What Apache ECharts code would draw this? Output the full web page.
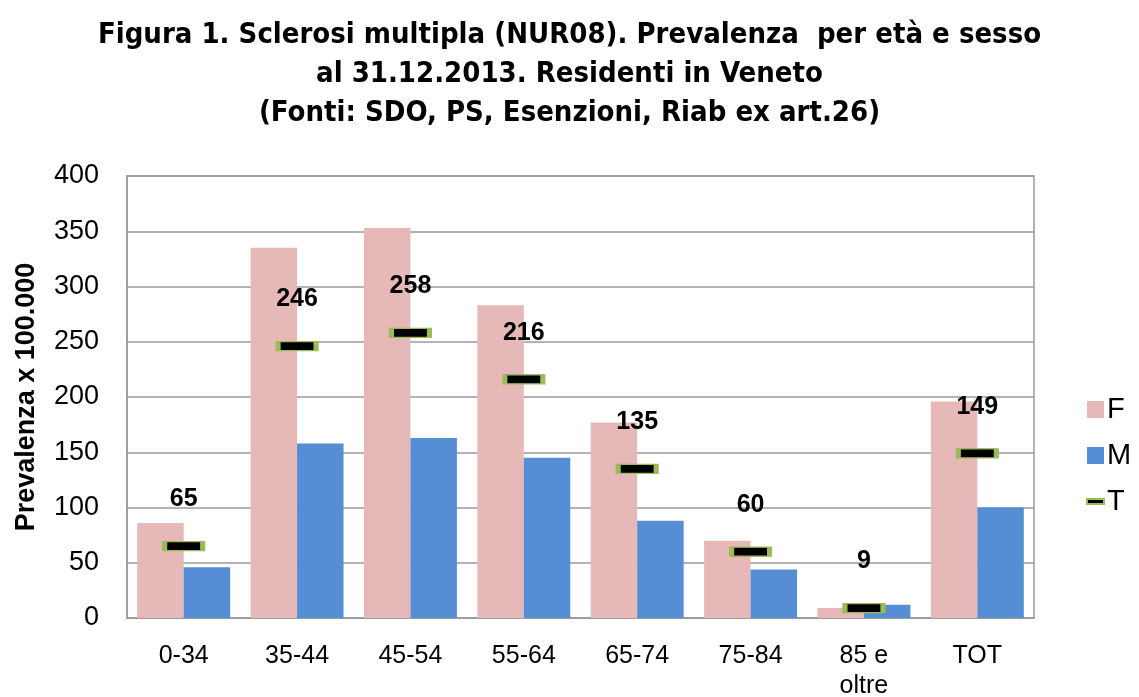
<!DOCTYPE html>
<html>
<head>
<meta charset="utf-8">
<script src="https://cdn.jsdelivr.net/npm/echarts@6/dist/echarts.min.js"></script>
<style>
  html, body { margin: 0; padding: 0; background: #fff; }
  #chart { width: 1139px; height: 697px; }
</style>
</head>
<body>
<div id="chart"></div>
<script>
// classi di età
var categories = ["0-34", "35-44", "45-54", "55-64", "65-74", "75-84", "85 e\noltre", "TOT"];
// prevalenza femmine
var valuesF = [86, 335, 353, 283, 177, 70, 9, 196];
// prevalenza maschi
var valuesM = [46, 158, 163, 145, 88, 44, 12, 100];
// totale
var valuesT = [65, 246, 258, 216, 135, 60, 9, 149];
var yTicks = [0, 50, 100, 150, 200, 250, 300, 350, 400];

var myChart = echarts.init(document.getElementById("chart"));
var option;

option = {
  animation: false,
  title: {
    text: "Figura 1. Sclerosi multipla (NUR08). Prevalenza  per età e sesso\nal 31.12.2013. Residenti in Veneto\n(Fonti: SDO, PS, Esenzioni, Riab ex art.26)",
    left: "center",
    top: 11,
    textStyle: {
      fontFamily: "'Liberation Sans Narrow', 'DejaVu Sans Condensed', sans-serif",
      fontWeight: "bold",
      fontSize: 29,
      lineHeight: 39,
      color: "#000",
    },
  },
  legend: {
    orient: "vertical",
    left: 1081,
    top: 390,
    itemWidth: 17,
    itemHeight: 17,
    itemGap: 17,
    textStyle: {
      fontFamily: "'Liberation Sans', Arial, sans-serif",
      fontSize: 29,
      color: "#000",
      padding: [0, 0, 0, -2],
    },
    data: [
      { name: "F", icon: "rect" },
      { name: "M", icon: "rect" },
      {
        name: "T",
        icon: "path://M0,0 L20,0 L20,6 L0,6 Z",
        itemStyle: { color: "#000", borderColor: "#9BBB59", borderWidth: 2 },
      },
    ],
  },
  grid: {
    left: 127,
    right: 105,
    top: 176,
    bottom: 79,
    outerBoundsMode: "none",
    show: true,
    borderColor: "#9a9a9a",
    borderWidth: 1.5,
  },
  xAxis: {
    type: "category",
    data: categories,
    axisLine: { lineStyle: { color: "#9a9a9a", width: 1.5 } },
    axisTick: { show: false },
    axisLabel: {
      margin: 23,
      fontFamily: "'Liberation Sans', Arial, sans-serif",
      fontSize: 25,
      lineHeight: 30,
      color: "#000",
    },
  },
  yAxis: {
    type: "value",
    min: yTicks[0],
    max: yTicks[yTicks.length - 1],
    interval: 50,
    name: "Prevalenza x 100.000",
    nameLocation: "middle",
    nameGap: 87,
    nameTextStyle: {
      fontFamily: "'Liberation Sans', Arial, sans-serif",
      fontWeight: "bold",
      fontSize: 27,
      color: "#000",
    },
    axisLine: { show: true, lineStyle: { color: "#9a9a9a", width: 1.5 } },
    axisTick: { show: false },
    splitLine: { lineStyle: { color: "#9a9a9a", width: 1.5 } },
    axisLabel: {
      margin: 28,
      fontFamily: "'Liberation Sans', Arial, sans-serif",
      fontSize: 27,
      color: "#000",
    },
  },
  series: [
    {
      name: "F",
      type: "bar",
      data: valuesF,
      barGap: "0%",
      barCategoryGap: "18%",
      itemStyle: { color: "#E6B9B8" },
    },
    {
      name: "M",
      type: "bar",
      data: valuesM,
      itemStyle: { color: "#558ED5" },
    },
    {
      name: "T",
      type: "scatter",
      data: valuesT,
      symbol: "rect",
      symbolSize: [38, 9],
      z: 5,
      itemStyle: { color: "#000", borderColor: "#9BBB59", borderWidth: 2.5, opacity: 1 },
      label: {
        show: true,
        position: "top",
        distance: 29,
        fontFamily: "'Liberation Sans', Arial, sans-serif",
        fontWeight: "bold",
        fontSize: 25,
        color: "#000",
      },
    },
  ],
};

option && myChart.setOption(option);
</script>
</body>
</html>
